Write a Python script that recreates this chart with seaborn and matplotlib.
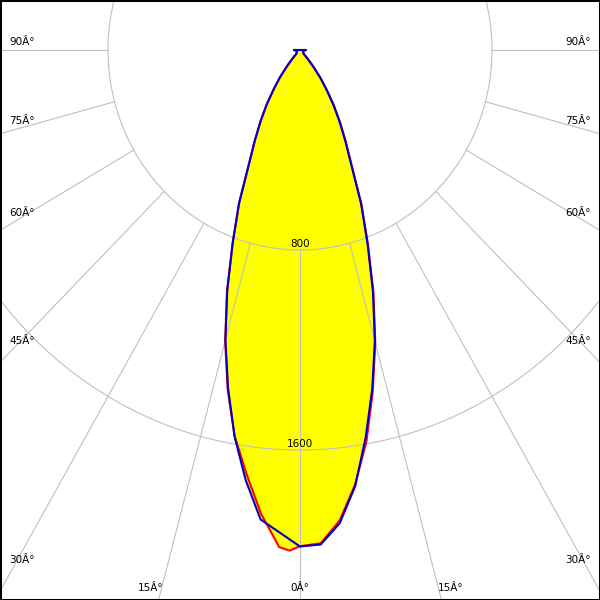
"""Polar luminous intensity diagram (cd) for a narrow beam luminaire,
two C-planes drawn over a yellow fill, redrawn with seaborn/matplotlib."""

import matplotlib

matplotlib.use("Agg")
import matplotlib.pyplot as plt
import numpy as np
import pandas as pd
import seaborn as sns

# Intensity per gamma angle (degrees from nadir) for each half plane, cd.
GAMMA_DEG = [0, 2.5, 5, 7.5, 10, 12.5, 15, 17.5, 20, 22.5, 25, 27.5, 30,
	32.5, 35, 37.5, 40, 42.5, 45, 50, 60, 70, 80, 90]
RED_C0_CD = [1985, 1975, 1890, 1755, 1592, 1400, 1212, 1018, 828, 670, 510, 412, 334,
	262, 194, 138, 84, 46, 22, 18, 15, 15, 15, 25]
BLUE_C90_CD = [1986, 1980, 1900, 1760, 1575, 1390, 1205, 1010, 822, 665, 505, 408, 328,
	258, 190, 135, 82, 45, 22, 18, 15, 15, 15, 25]

# the C180 plane has an extra reading just off nadir, C270 lacks the 2.5 one
RED_C180_DEG = [0, 1.25] + GAMMA_DEG[1:]
RED_C180_CD = [1985, 2003, 1990, 1862, 1710, 1568, 1392, 1205, 1012, 818, 662, 502, 406, 328,
	258, 190, 135, 82, 45, 22, 18, 15, 15, 15, 25]
BLUE_C270_DEG = [0] + GAMMA_DEG[2:]
BLUE_C270_CD = [1986, 1885, 1735, 1570, 1385, 1200, 1008, 820, 664, 504, 407, 328,
	258, 190, 135, 82, 45, 22, 18, 15, 15, 15, 25]

RINGS_CD = [800, 1600]
RING_LABELS = ["800", "1600"]
SPOKES_DEG = list(range(-90, 91, 15))

SIDE_LABELS = ["90Â°", "75Â°", "60Â°", "45Â°", "30Â°"]
BOTTOM_LABELS = ["15Â°", "0Â°", "15Â°"]

# label placement in pixels of the 600x600 canvas
SIDE_LABEL_Y_PX = [42, 121, 213, 341, 560]
BOTTOM_LABEL_X_PX = [151, 300, 451]
BOTTOM_LABEL_Y_PX = 588

GRID = "#c0c0c0"
COLOURS = {"C0 - C180": "#ff0000", "C90 - C270": "#0000cc"}


def plane_xy(left_deg, left_cd, right_deg, right_cd):
	"""Closed outline: left half from 90 down to nadir, then right half up."""
	th_l = -np.radians(left_deg)[::-1]
	r_l = np.asarray(left_cd, float)[::-1]
	th_r = np.radians(right_deg)
	r_r = np.asarray(right_cd, float)
	th = np.concatenate([th_l, th_r[1:], th_l[:1]])
	r = np.concatenate([r_l, r_r[1:], r_l[:1]])
	return r * np.sin(th), -r * np.cos(th)


sns.set_style("white")
plt.rcParams["font.family"] = ["DejaVu Sans"]
plt.rcParams["text.color"] = "black"

fig = plt.figure(figsize=(6, 6), dpi=100)
ax = fig.add_axes([0, 0, 1, 1])

planes = {
	"C0 - C180": plane_xy(RED_C180_DEG, RED_C180_CD, GAMMA_DEG, RED_C0_CD),
	"C90 - C270": plane_xy(BLUE_C270_DEG, BLUE_C270_CD, GAMMA_DEG, BLUE_C90_CD),
}

frames = []
for name, (x, y) in planes.items():
	ax.fill(x, y, color="#ffff00", lw=0, zorder=1)
	frames.append(pd.DataFrame({"x": x, "y": y, "plane": name}))
df = pd.concat(frames, ignore_index=True)

# grid: rings and spokes from the first ring outwards
t = np.linspace(0, 2 * np.pi, 721)
for r in RINGS_CD:
	ax.plot(r * np.sin(t), r * np.cos(t), color=GRID, lw=0.8, zorder=1.5)
for a in SPOKES_DEG:
	th = np.radians(a)
	ax.plot(
		[RINGS_CD[0] * np.sin(th), 6000 * np.sin(th)],
		[-RINGS_CD[0] * np.cos(th), -6000 * np.cos(th)],
		color=GRID,
		lw=0.8,
		zorder=1.5,
	)

sns.lineplot(
	data=df,
	x="x",
	y="y",
	hue="plane",
	hue_order=["C0 - C180", "C90 - C270"],
	palette=COLOURS,
	sort=False,
	estimator=None,
	linewidth=1.5,
	legend=False,
	ax=ax,
)
for ln in ax.lines[-2:]:
	ln.set_zorder(3)

for r, lab in zip(RINGS_CD, RING_LABELS):
	ax.annotate(
		lab,
		(0, -r),
		xytext=(0, 4.5),
		textcoords="offset points",
		ha="center",
		va="center",
		fontsize=7.5,
		color="black",
		zorder=4,
	)

for lab, py in zip(SIDE_LABELS, SIDE_LABEL_Y_PX):
	yf = 1 - py / 600
	ax.text(9 / 600, yf, lab, transform=ax.transAxes, ha="left", va="center",
		fontsize=7.5, color="black")
	ax.text(591 / 600, yf, lab, transform=ax.transAxes, ha="right", va="center",
		fontsize=7.5, color="black")
for lab, px in zip(BOTTOM_LABELS, BOTTOM_LABEL_X_PX):
	ax.text(
		px / 600,
		1 - BOTTOM_LABEL_Y_PX / 600,
		lab,
		transform=ax.transAxes,
		ha="center",
		va="center",
		fontsize=7.5,
		color="black",
	)

ax.set_xlim(-1250, 1250)
ax.set_ylim(-2200, 200)
ax.set_xticks([])
ax.set_yticks([])
ax.set_xlabel("")
ax.set_ylabel("")
for sp in ax.spines.values():
	sp.set_visible(True)
	sp.set_color("black")
	sp.set_linewidth(2.2)

fig.savefig("out.png", dpi=100)
plt.close(fig)
